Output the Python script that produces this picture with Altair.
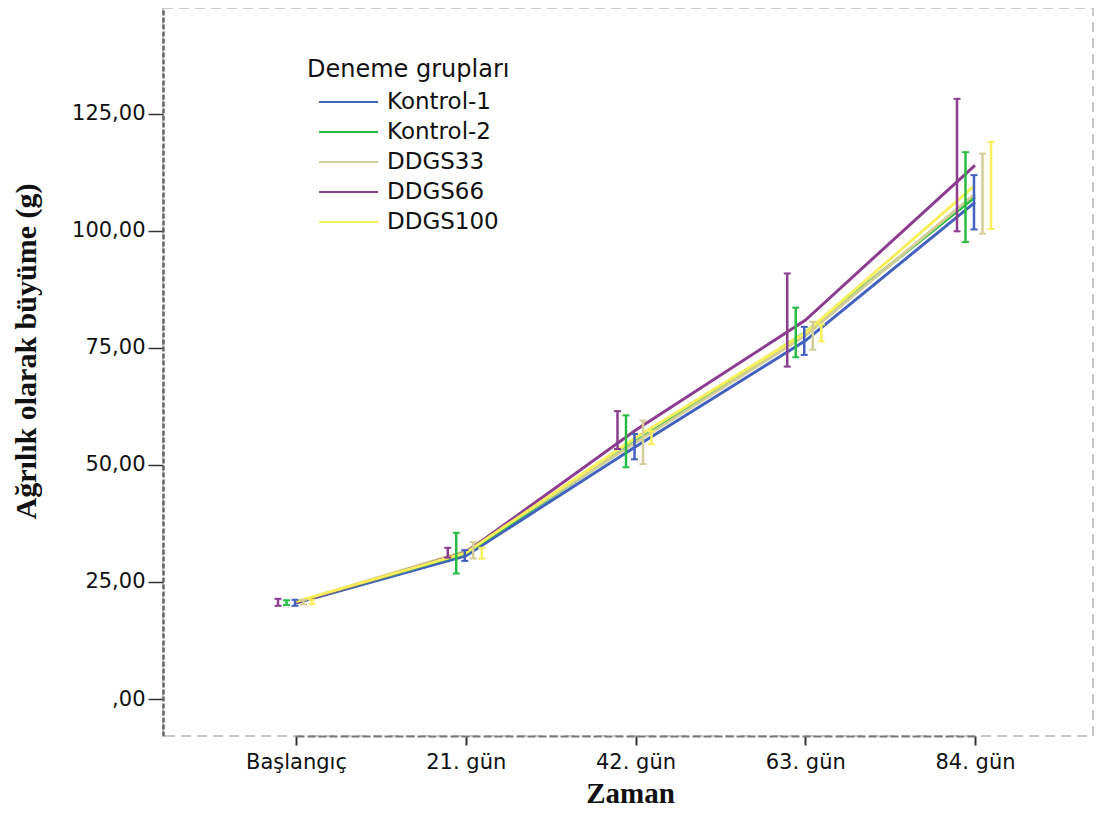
import altair as alt
import pandas as pd

times = ["Başlangıç", "21. gün", "42. gün", "63. gün", "84. gün"]
groups = ["Kontrol-1", "Kontrol-2", "DDGS33", "DDGS66", "DDGS100"]
offset_order = ["DDGS66", "Kontrol-2", "Kontrol-1", "DDGS33", "DDGS100"]
colors = ["#4361BE", "#27BD45", "#D3CE97", "#8C3D8F", "#F7EF5C"]

# means
mean_k1 = [20.5, 30.6, 53.9, 76.5, 106.1]
mean_k2 = [20.6, 31.1, 55.0, 78.3, 107.2]
mean_d33 = [20.7, 31.6, 54.8, 77.6, 107.9]
mean_d66 = [20.6, 31.3, 57.4, 80.9, 114.0]
mean_d100 = [20.8, 31.2, 55.8, 78.2, 109.7]
# lower error bar ends
lo_k1 = [19.9, 29.5, 51.2, 73.5, 100.3]
lo_k2 = [20.1, 26.8, 49.5, 73.0, 97.6]
lo_d33 = [20.2, 30.0, 50.2, 74.6, 99.4]
lo_d66 = [19.9, 30.2, 53.4, 71.0, 99.9]
lo_d100 = [20.3, 30.0, 54.4, 76.4, 100.4]
# upper error bar ends
hi_k1 = [21.2, 31.8, 56.6, 79.5, 111.9]
hi_k2 = [21.1, 35.5, 60.6, 83.6, 116.8]
hi_d33 = [21.2, 33.5, 59.5, 80.6, 116.5]
hi_d66 = [21.4, 32.3, 61.5, 90.9, 128.2]
hi_d100 = [21.2, 32.3, 57.2, 80.0, 119.0]

means = [mean_k1, mean_k2, mean_d33, mean_d66, mean_d100]
los = [lo_k1, lo_k2, lo_d33, lo_d66, lo_d100]
his = [hi_k1, hi_k2, hi_d33, hi_d66, hi_d100]

rows = []
for g, m, lo, hi in zip(groups, means, los, his):
    for i, t in enumerate(times):
        rows.append({"grup": g, "zaman": t, "idx": i, "ortalama": m[i], "alt": lo[i], "ust": hi[i]})
df = pd.DataFrame(rows)

YTITLE = "Ağrılık olarak büyüme (g)"

x_enc = alt.X(
    "zaman:N",
    sort=times,
    title="Zaman",
    scale=alt.Scale(type="point", domain=times, range=[133, 812], padding=0),
    axis=alt.Axis(
        labelAngle=0,
        labelFont="DejaVu Sans",
        labelFontSize=21,
        labelColor="#111",
        labelPadding=6,
        tickSize=9,
        tickWidth=2,
        tickColor="#333",
        domainColor="#777",
        domainWidth=2,
        domainDash=[8, 3],
        titleFont="Liberation Serif",
        titleFontWeight="bold",
        titleFontSize=29,
        titleColor="#111",
        titleX=467,
        titleY=57,
        titleBaseline="middle",
        titleAlign="center",
    ),
)

y_axis = alt.Axis(
    values=[0, 25, 50, 75, 100, 125],
    labelExpr="datum.value == 0 ? ',00' : replace(format(datum.value, '.2f'), '.', ',')",
    labelFont="DejaVu Sans",
    labelFontSize=21,
    labelColor="#111",
    labelPadding=3,
    tickSize=15,
    tickWidth=1.5,
    tickColor="#333",
    domainColor="#666",
    domainWidth=2.5,
    domainDash=[5, 2],
    grid=False,
    titleFont="Liberation Serif",
    titleFontWeight="bold",
    titleFontSize=30,
    titleColor="#111",
    titleX=-137,
    titleY=343,
    titleAngle=-90,
    titleAlign="center",
    titleBaseline="middle",
)
y_scale = alt.Scale(domain=[-7.9, 147.6], nice=False, zero=False)

color_scale = alt.Scale(domain=groups, range=colors)

legend = alt.Legend(
    title="Deneme grupları",
    orient="none",
    legendX=144,
    legendY=50,
    symbolType="stroke",
    symbolSize=3481,
    symbolStrokeWidth=2,
    symbolOffset=11,
    labelFont="DejaVu Sans",
    labelFontSize=23,
    labelColor="#111",
    labelOffset=8,
    labelLimit=300,
    titleFont="DejaVu Sans",
    titleFontSize=24,
    titleFontWeight="normal",
    titleColor="#111",
    titleLimit=500,
    titlePadding=6,
    clipHeight=28,
    rowPadding=2,
    padding=0,
)

xoff = alt.XOffset(
    "grup:N",
    scale=alt.Scale(type="point", domain=offset_order, range=[-18, 16], padding=0),
)

base = alt.Chart(df)

lines = base.mark_line(strokeWidth=3).encode(
    x=x_enc,
    y=alt.Y("ortalama:Q", title=YTITLE, scale=y_scale, axis=y_axis),
    color=alt.Color("grup:N", scale=color_scale, sort=groups, legend=legend),
    order=alt.Order("idx:Q"),
)

rules = base.mark_rule(strokeWidth=2.5).encode(
    x=x_enc,
    xOffset=xoff,
    y=alt.Y("alt:Q", title=YTITLE, scale=y_scale, axis=y_axis),
    y2="ust:Q",
    color=alt.Color("grup:N", scale=color_scale, sort=groups, legend=legend),
)

caps_lo = base.mark_tick(thickness=2, size=7, opacity=1).encode(
    x=x_enc,
    xOffset=xoff,
    y=alt.Y("alt:Q", title=YTITLE, scale=y_scale, axis=y_axis),
    color=alt.Color("grup:N", scale=color_scale, sort=groups, legend=legend),
)

caps_hi = base.mark_tick(thickness=2, size=7, opacity=1).encode(
    x=x_enc,
    xOffset=xoff,
    y=alt.Y("ust:Q", title=YTITLE, scale=y_scale, axis=y_axis),
    color=alt.Color("grup:N", scale=color_scale, sort=groups, legend=legend),
)

chart = (
    alt.layer(lines, rules, caps_lo, caps_hi)
    .properties(
        width=930,
        height=728,
        autosize=alt.AutoSizeParams(type="none"),
        padding={"left": 155, "top": 0, "right": 2, "bottom": 72},
        background="white",
    )
    .configure_view(stroke="#c8c8c8", strokeDash=[10, 6], strokeWidth=2)
)

chart.save("out.html", embed_options={"renderer": "svg", "actions": False})
